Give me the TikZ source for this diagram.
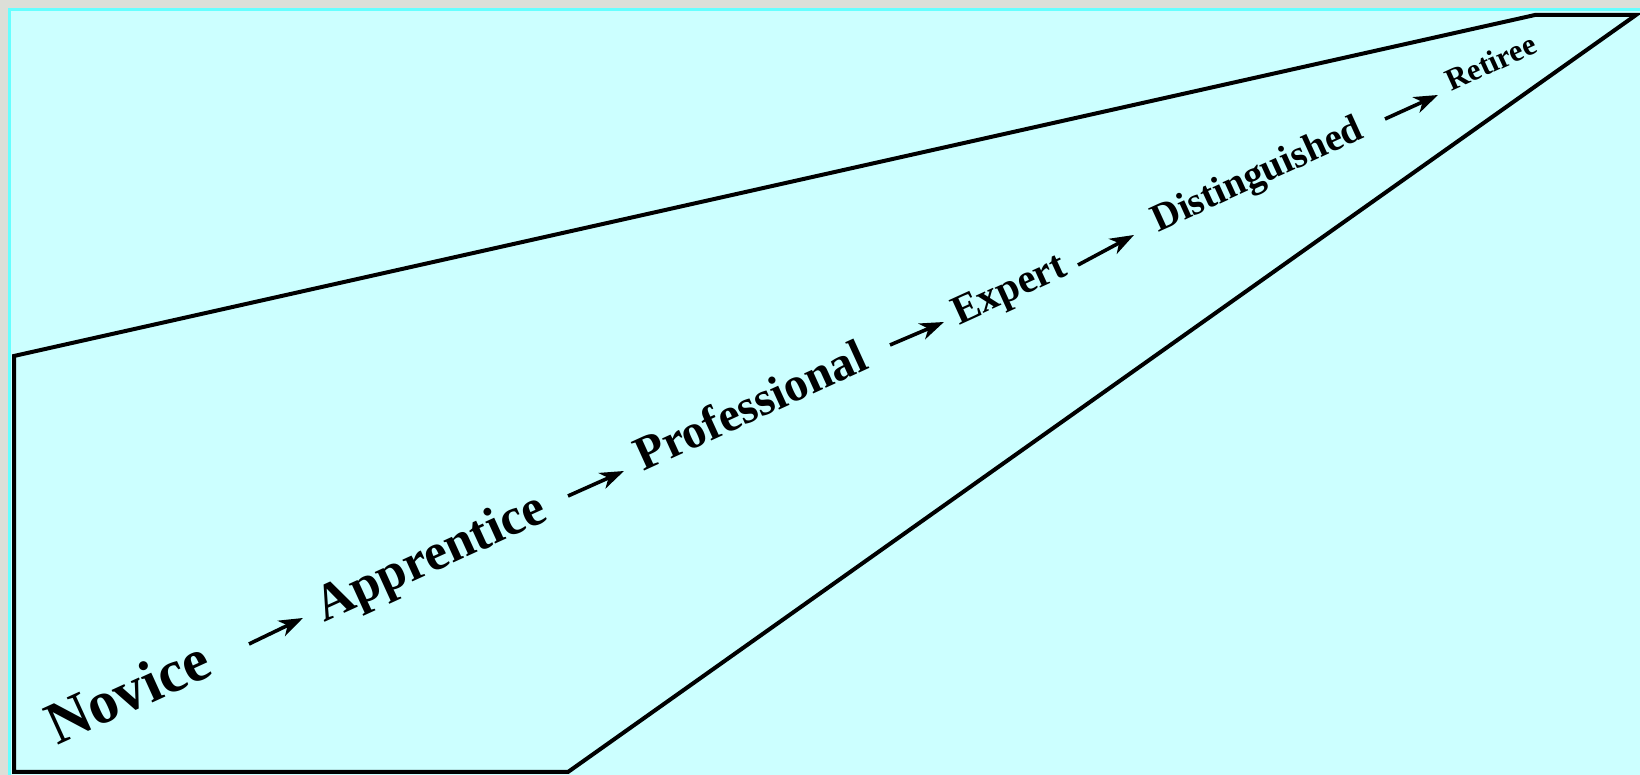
\documentclass[tikz,border=0pt]{standalone}
\usepackage{fontspec}
\setmainfont{Liberation Serif}
\usetikzlibrary{arrows.meta,calc}
\usepackage{xcolor}
\definecolor{ccFrame}{HTML}{DCDFD8}
\definecolor{ccEdge}{HTML}{66FFFF}
\definecolor{ccSky}{HTML}{CCFFFF}
\definecolor{ccInk}{HTML}{000000}
\tikzset{
  stg/.style={inner sep=0pt, anchor=base, rotate=24.5, font=\bfseries, text=ccInk},
  arr/.style={-{Stealth[length=12pt,width=8.5pt,inset=3.5pt]}, line width=1.8pt, draw=ccInk},
}

\begin{document}
\begin{tikzpicture}[x=0.5pt,y=0.5pt]
  % frame
  \useasboundingbox (0,0) rectangle (1640,775);
  \fill[ccFrame] (0,0) rectangle (1640,775);
  \fill[ccEdge] (8,0) rectangle (1640,767);
  \fill[ccSky] (11,0) rectangle (1640,764);
  % funnel
  \draw[ccInk, line width=2pt, line join=miter]
    (14,419) -- (1535,760) -- (1636,760) -- (568,3) -- (14,3) -- cycle;
  % stages
  \node[stg, font=\bfseries\fontsize{30}{33}\selectfont] (novice) at (136,65) {Novice};
  \node[stg, font=\bfseries\fontsize{26}{30}\selectfont] (apprentice) at (437,204) {Apprentice};
  \node[stg, font=\bfseries\fontsize{24}{28}\selectfont] (professional) at (757,355) {Professional};
  \node[stg, font=\bfseries\fontsize{20.5}{24}\selectfont] (expert) at (1014,475) {Expert};
  \node[stg, font=\bfseries\fontsize{19.5}{23}\selectfont] (distinguished) at (1262,590) {Distinguished};
  \node[stg, font=\bfseries\fontsize{15.5}{18}\selectfont] (retiree) at (1495,703) {Retiree};
  % arrow ends
  \coordinate (novice-out) at (249,131);
  \coordinate (apprentice-in) at (303,157);
  \coordinate (apprentice-out) at (568,279);
  \coordinate (professional-in) at (624,304);
  \coordinate (professional-out) at (890,430);
  \coordinate (expert-in) at (944,453);
  \coordinate (expert-out) at (1078,510);
  \coordinate (distinguished-in) at (1134,540);
  \coordinate (distinguished-out) at (1385,656);
  \coordinate (retiree-in) at (1438,680);
  % arrows
  \draw[arr] (novice-out) -- (apprentice-in);
  \draw[arr] (apprentice-out) -- (professional-in);
  \draw[arr] (professional-out) -- (expert-in);
  \draw[arr] (expert-out) -- (distinguished-in);
  \draw[arr] (distinguished-out) -- (retiree-in);
\end{tikzpicture}
\end{document}
